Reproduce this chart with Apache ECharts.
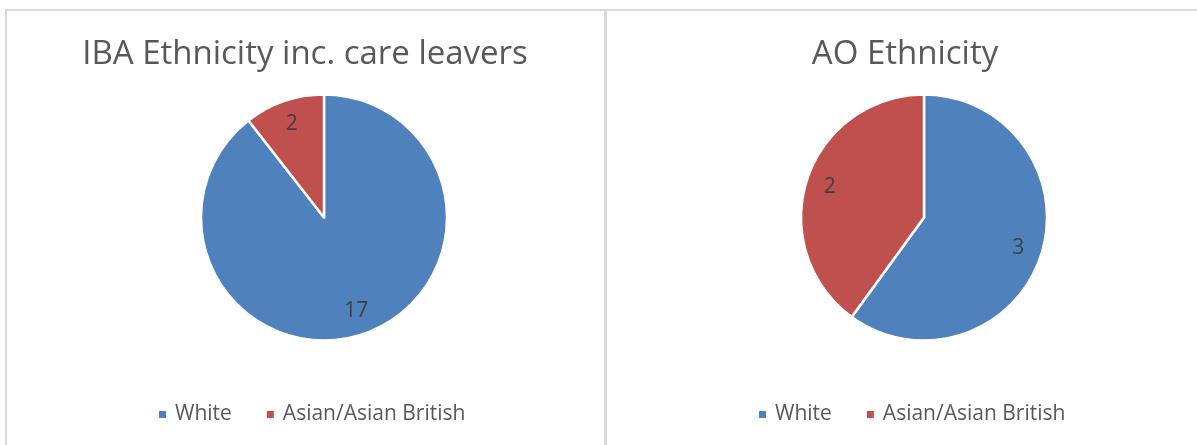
<!DOCTYPE html>
<html>
<head>
<meta charset="utf-8">
<script src="https://cdn.jsdelivr.net/npm/echarts@6/dist/echarts.min.js"></script>
<style>
html,body{margin:0;padding:0;background:#fff;}
#wrap{position:relative;width:1197px;height:445px;overflow:hidden;}
#c{position:absolute;left:0;top:0;width:1197px;height:445px;}
.ln{position:absolute;background:#d9d9d9;}
</style>
</head>
<body>
<div id="wrap">
<div id="c"></div>
<div class="ln" style="left:5px;top:9px;width:1192px;height:2px;"></div>
<div class="ln" style="left:5px;top:9px;width:2px;height:436px;"></div>
<div class="ln" style="left:604px;top:9px;width:3px;height:436px;"></div>
</div>
<script>
const categories = ['White', 'Asian/Asian British'];
const ibaValues = [17, 2];
const aoValues = [3, 2];
const titles = ['IBA Ethnicity inc. care leavers', 'AO Ethnicity'];
const colors = ['#4F81BD', '#C0504D'];

const chart = echarts.init(document.getElementById('c'), null, {renderer: 'canvas'});
const FONT = '"Open Sans", "Liberation Sans", sans-serif';

function mkData(vals) {
  return categories.map((n, i) => ({name: n, value: vals[i], itemStyle: {color: colors[i]}}));
}
function pieSeries(vals, cx) {
  return [
    {
      type: 'pie', center: [cx, 217.5], radius: [0, 123], startAngle: 90, clockwise: true,
      data: mkData(vals),
      itemStyle: {borderColor: '#fff', borderWidth: 2.5},
      label: {show: false}, labelLine: {show: false},
      emphasis: {disabled: true}, silent: true, animation: false
    },
    {
      type: 'pie', center: [cx, 217.5], radius: [69, 123], startAngle: 90, clockwise: true,
      data: categories.map((n, i) => ({name: n, value: vals[i], itemStyle: {color: 'rgba(0,0,0,0)'}})),
      itemStyle: {borderWidth: 0},
      label: {show: true, position: 'inside', formatter: '{c}', color: '#404040', fontSize: 21, fontFamily: FONT},
      labelLine: {show: false}, legendHoverLink: false,
      emphasis: {disabled: true}, silent: true, animation: false
    }
  ];
}
const legendBase = {
  data: categories, orient: 'horizontal', top: 404, padding: 0, itemWidth: 9, itemHeight: 9, itemGap: 33,
  icon: 'rect', selectedMode: false,
  textStyle: {color: '#595959', fontSize: 21, fontFamily: FONT, padding: [0, 0, 0, 3]}
};
chart.setOption({
  animation: false,
  title: [
    {text: titles[0], left: 300, textAlign: 'center', top: 33, textStyle: {color: '#595959', fontSize: 33, fontWeight: 'normal', fontFamily: FONT}},
    {text: titles[1], left: 900, textAlign: 'center', top: 33, textStyle: {color: '#595959', fontSize: 33, fontWeight: 'normal', fontFamily: FONT}}
  ],
  legend: [
    Object.assign({}, legendBase, {left: 157}),
    Object.assign({}, legendBase, {left: 757})
  ],
  series: [...pieSeries(ibaValues, 324), ...pieSeries(aoValues, 924)]
});
</script>
</body>
</html>
